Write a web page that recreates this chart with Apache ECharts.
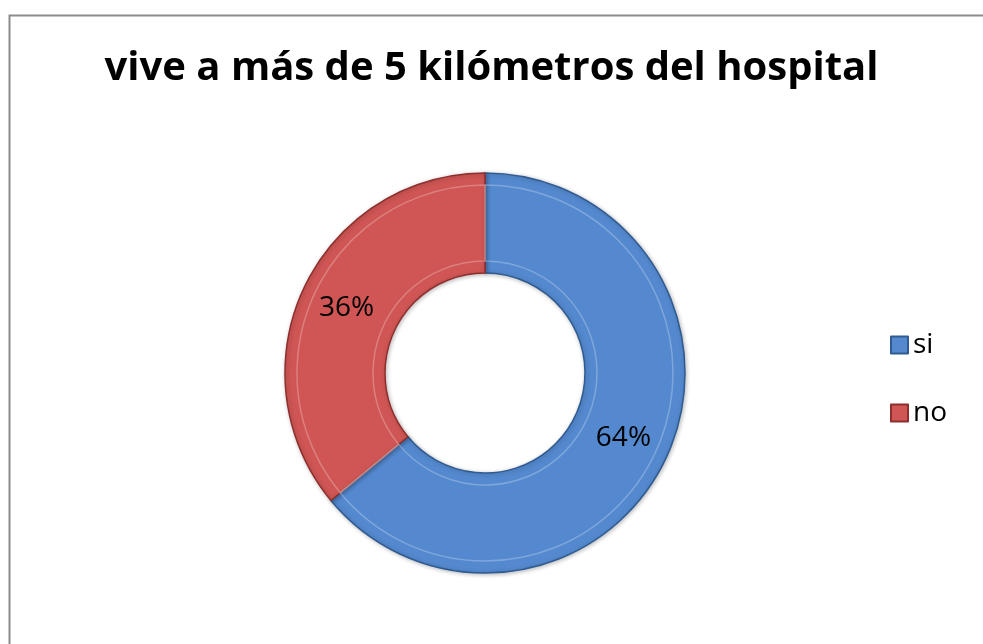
<!DOCTYPE html>
<html>
<head>
<meta charset="utf-8">
<script src="https://cdn.jsdelivr.net/npm/echarts@6/dist/echarts.min.js"></script>
<style>
  html, body { margin: 0; padding: 0; background: #fff; }
  #chart { width: 983px; height: 644px; }
</style>
</head>
<body>
<div id="chart"></div>
<script>
'use strict';

// ---- data ----
const categories = ['si', 'no'];
const values = [64, 36];
const titleText = 'vive a más de 5 kilómetros del hospital';

// ---- palette ----
const C = { si: '#5489cf', no: '#cf5654', siEdge: '#2f5b91', noEdge: '#8e2f2d', frame: '#8c8c8c', ink: '#000' };
const FONT = '"Open Sans", "Noto Sans", sans-serif';

const chart = echarts.init(document.getElementById('chart'));
chart.setOption({
  animation: false,
  backgroundColor: '#fff',
  title: {
    text: titleText, left: 'center', top: 44,
    textStyle: { fontFamily: FONT, fontWeight: 'bold', fontSize: 40, color: C.ink },
  },
  graphic: [{
    type: 'rect', left: 7, top: 13, silent: true,
    shape: { width: 1000, height: 1000 },
    style: { fill: 'none', stroke: C.frame, lineWidth: 2 },
  }],
  legend: {
    orient: 'vertical', left: 885, top: 326, itemGap: 40,
    itemWidth: 17, itemHeight: 17, icon: 'rect',
    textStyle: { fontFamily: FONT, fontSize: 28, color: C.ink },
    data: categories,
  },
  series: [{
    type: 'pie', center: [485, 373], radius: [100, 200], startAngle: 90, clockwise: true,
    avoidLabelOverlap: false,
    label: {
      show: true, position: 'inside', formatter: p => p.value + '%',
      fontFamily: FONT, fontSize: 28, color: C.ink,
    },
    labelLine: { show: false },
    emphasis: { disabled: true },
    data: categories.map((c, i) => ({
      name: c, value: values[i],
      itemStyle: {
        color: C[c], borderColor: i === 0 ? C.siEdge : C.noEdge, borderWidth: 1.5,
        shadowColor: 'rgba(0,0,0,0.25)', shadowBlur: 4, shadowOffsetX: 1, shadowOffsetY: 1,
      },
    })),
  }, {
    // inner bevel ring
    type: 'pie', center: [485, 373], radius: [112, 188], startAngle: 90, clockwise: true,
    silent: true, label: { show: false }, labelLine: { show: false }, legendHoverLink: false,
    emphasis: { disabled: true },
    data: categories.map((c, i) => ({
      name: c, value: values[i],
      itemStyle: { color: 'rgba(0,0,0,0)', borderColor: 'rgba(255,255,255,0.25)', borderWidth: 1.5 },
    })),
  }],
});
</script>
</body>
</html>
